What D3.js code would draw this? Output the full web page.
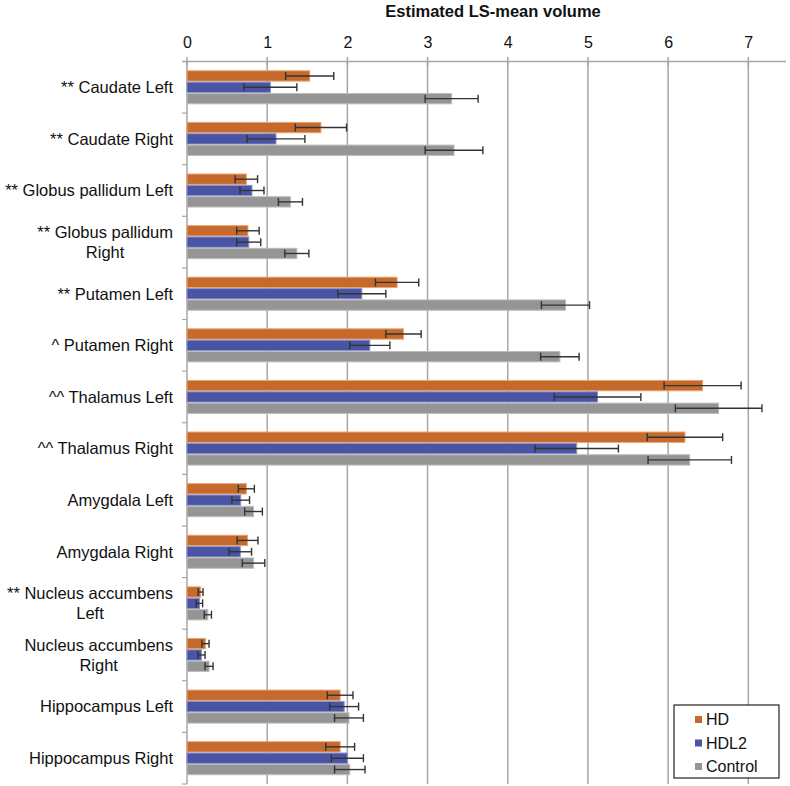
<!DOCTYPE html>
<html>
<head>
<meta charset="utf-8">
<script src="https://cdn.jsdelivr.net/npm/d3@7"></script>
<style>
  html, body { margin: 0; padding: 0; background: #fff; }
  svg { display: block; font-family: "Liberation Sans", Arial, sans-serif; }
</style>
</head>
<body>
<svg id="chart" width="790" height="786"></svg>
<script>
const categories = [
  ["** Caudate Left"],
  ["** Caudate Right"],
  ["** Globus pallidum Left"],
  ["** Globus pallidum", "Right"],
  ["** Putamen Left"],
  ["^ Putamen Right"],
  ["^^ Thalamus Left"],
  ["^^ Thalamus Right"],
  ["Amygdala Left"],
  ["Amygdala Right"],
  ["** Nucleus accumbens", "Left"],
  ["Nucleus accumbens", "Right"],
  ["Hippocampus Left"],
  ["Hippocampus Right"]
];
const seriesNames = ["HD", "HDL2", "Control"];
const hdValues      = [1.53, 1.67, 0.74, 0.76, 2.62, 2.70, 6.43, 6.21, 0.74, 0.755, 0.17, 0.23, 1.91, 1.91];
const hdErrors      = [0.30, 0.32, 0.14, 0.14, 0.27, 0.22, 0.48, 0.47, 0.10, 0.13, 0.03, 0.045, 0.16, 0.18];
const hdl2Values    = [1.04, 1.11, 0.81, 0.77, 2.18, 2.28, 5.12, 4.86, 0.67, 0.665, 0.155, 0.18, 1.96, 2.00];
const hdl2Errors    = [0.33, 0.36, 0.15, 0.15, 0.30, 0.25, 0.54, 0.52, 0.11, 0.14, 0.04, 0.045, 0.18, 0.20];
const controlValues = [3.30, 3.33, 1.29, 1.37, 4.72, 4.65, 6.63, 6.27, 0.83, 0.83, 0.26, 0.275, 2.02, 2.03];
const controlErrors = [0.33, 0.36, 0.15, 0.15, 0.30, 0.24, 0.54, 0.52, 0.11, 0.14, 0.045, 0.05, 0.18, 0.19];
const xTicks = [0, 1, 2, 3, 4, 5, 6, 7];
const xTitle = "Estimated LS-mean volume";

(function () {
const colors = ["#C5692D", "#4955A3", "#959595"];
const strokes = ["#E9A473", "#8C94CF", "#BDBDBD"];

const svg = d3.select("#chart");
const mLeft = 187, mRight = 786, mTop = 61.5, mBottom = 784;

const x = d3.scaleLinear().domain([0, 7.47]).range([mLeft, mRight]);
const keys = categories.map((c, i) => i);
const y0 = d3.scaleBand().domain(keys).range([mTop, mBottom]).paddingInner(0.34).paddingOuter(0.17);
const y1 = d3.scaleBand().domain([0, 1, 2]).range([0, y0.bandwidth()]);

const values = [hdValues, hdl2Values, controlValues];
const errors = [hdErrors, hdl2Errors, controlErrors];

// gridlines
svg.append("g").selectAll("line").data(xTicks.filter(d => d > 0)).join("line")
  .attr("x1", d => x(d)).attr("x2", d => x(d))
  .attr("y1", mTop).attr("y2", mBottom)
  .attr("stroke", "#A6A6A6").attr("stroke-width", 1.5);

// top axis
const xAxis = d3.axisTop(x).tickValues(xTicks).tickFormat(d3.format("d")).tickSize(0).tickPadding(14);
const gx = svg.append("g").attr("transform", `translate(0,${mTop})`).call(xAxis);
gx.select(".domain").remove();
gx.selectAll("text").attr("font-size", 16).attr("fill", "#111")
  .attr("font-family", "Liberation Sans, Arial, sans-serif");
svg.append("line").attr("x1", mLeft - 4).attr("x2", mRight).attr("y1", mTop).attr("y2", mTop)
  .attr("stroke", "#A6A6A6").attr("stroke-width", 1.5);
svg.append("g").selectAll("line").data(xTicks).join("line")
  .attr("x1", d => x(d)).attr("x2", d => x(d))
  .attr("y1", mTop - 4.5).attr("y2", mTop + 4)
  .attr("stroke", "#A6A6A6").attr("stroke-width", 1.5);

svg.append("text").attr("x", 493).attr("y", 16.5)
  .attr("text-anchor", "middle").attr("font-weight", "bold").attr("font-size", 16.5)
  .attr("fill", "#111").text(xTitle);

// y axis line and ticks
svg.append("line").attr("x1", mLeft).attr("x2", mLeft).attr("y1", mTop).attr("y2", mBottom)
  .attr("stroke", "#A6A6A6").attr("stroke-width", 1.5);
const bounds = keys.map(k => y0(k) - y0.step() * y0.paddingInner() / 2).concat([mBottom]);
svg.append("g").selectAll("line").data(bounds).join("line")
  .attr("x1", mLeft - 5).attr("x2", mLeft).attr("y1", d => d).attr("y2", d => d)
  .attr("stroke", "#A6A6A6").attr("stroke-width", 1.2);

// bars
const groups = svg.append("g").selectAll("g").data(keys).join("g")
  .attr("transform", k => `translate(0,${y0(k)})`);
groups.each(function(k) {
  const g = d3.select(this);
  [0, 1, 2].forEach(s => {
    const v = values[s][k], e = errors[s][k];
    g.append("rect")
      .attr("x", x(0)).attr("y", y1(s) + 0.5)
      .attr("width", x(v) - x(0)).attr("height", y1.bandwidth() - 1)
      .attr("fill", colors[s]).attr("stroke", strokes[s]).attr("stroke-width", 1);
    const cy = y1(s) + y1.bandwidth() / 2;
    g.append("line").attr("x1", x(v - e)).attr("x2", x(v + e)).attr("y1", cy).attr("y2", cy)
      .attr("stroke", "#333").attr("stroke-width", 1.4);
    [v - e, v + e].forEach(p => {
      g.append("line").attr("x1", x(p)).attr("x2", x(p)).attr("y1", cy - 4).attr("y2", cy + 4)
        .attr("stroke", "#333").attr("stroke-width", 1.4);
    });
  });
});

// category labels
const labelX = 173;
const fs = 16.5;
keys.forEach(k => {
  const lines = categories[k];
  const cy = y0(k) + y0.bandwidth() / 2;
  const lh = 19.5;
  const startY = cy - (lines.length - 1) * lh / 2;
  const t = svg.append("text").attr("font-size", fs).attr("fill", "#111").attr("text-anchor", "middle");
  const spans = lines.map((ln, i) => t.append("tspan").attr("y", startY + i * lh).attr("dy", "0.35em").text(ln));
  const widths = spans.map(sp => sp.node().getComputedTextLength());
  const maxW = d3.max(widths);
  spans.forEach(sp => sp.attr("x", labelX - maxW / 2));
});

// legend
const lg = svg.append("g").attr("transform", "translate(674,705)");
lg.append("rect").attr("x", 0).attr("y", 0).attr("width", 105).attr("height", 73)
  .attr("fill", "#fff").attr("stroke", "#222").attr("stroke-width", 1.2);
seriesNames.forEach((n, i) => {
  const cy = 14.5 + i * 23.5;
  lg.append("rect").attr("x", 21).attr("y", cy - 3.5).attr("width", 7).attr("height", 7).attr("fill", colors[i]);
  lg.append("text").attr("x", 32).attr("y", cy).attr("dy", "0.35em").attr("font-size", 16)
    .attr("fill", "#111").text(n);
});
})();
</script>
</body>
</html>
